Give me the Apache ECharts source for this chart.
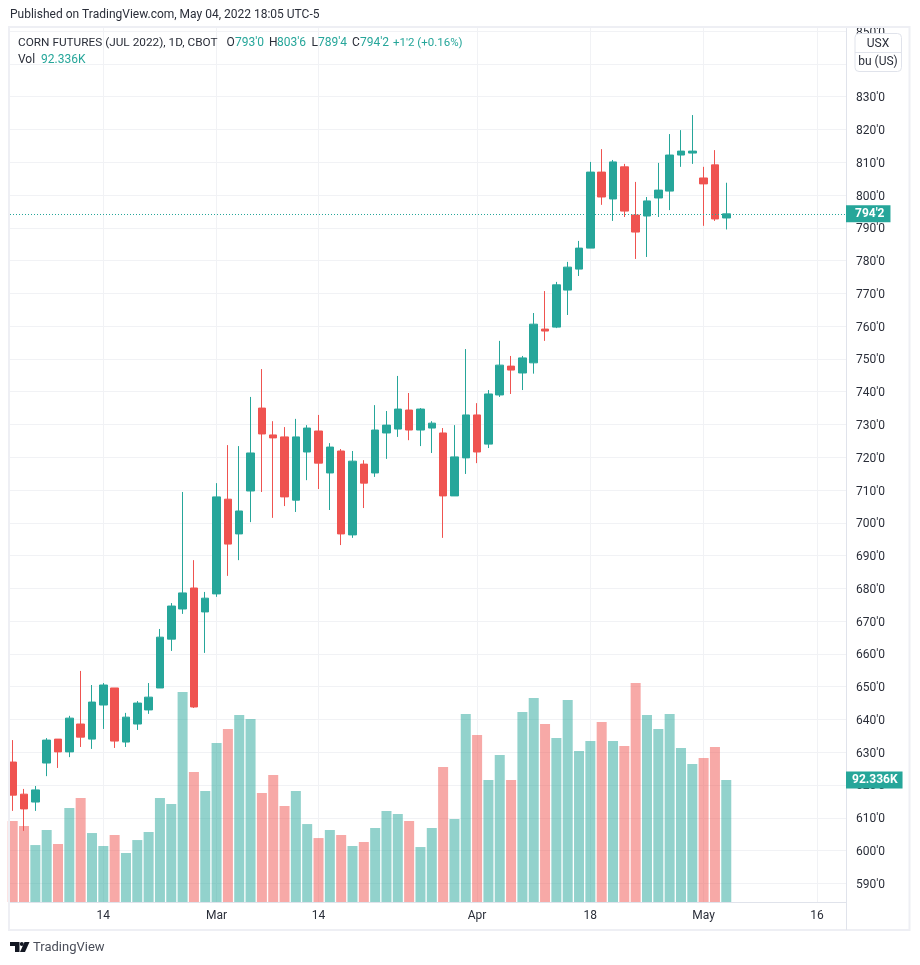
<!DOCTYPE html>
<html><head><meta charset="utf-8">
<style>html,body{margin:0;padding:0;background:#fff}#c{width:920px;height:965px}</style>
<script src="https://cdn.jsdelivr.net/npm/echarts@6/dist/echarts.min.js"></script>
</head><body><div id="c"></div>
<script>
const opens=[627.0,617.2,614.8,626.7,634.0,630.1,638.6,634.0,644.4,649.6,633.1,638.6,642.9,649.6,664.5,673.7,680.1,672.8,678.3,707.2,696.6,709.7,735.0,726.8,726.2,706.9,721.6,728.0,715.2,721.9,696.3,717.9,715.2,727.4,728.6,734.4,728.3,728.9,727.4,708.2,719.8,732.9,724.0,739.0,747.8,745.7,748.8,759.1,759.7,771.0,777.4,783.8,807.0,798.8,808.6,793.9,793.6,799.1,801.2,812.2,812.8,805.2,809.2,793.0];
const closes=[616.9,612.7,618.5,633.7,630.1,640.4,634.6,645.3,650.5,633.4,640.7,645.0,646.8,665.1,674.6,678.6,643.8,677.0,707.9,693.5,703.6,721.3,727.1,725.9,707.9,726.2,728.9,718.2,723.1,696.6,718.8,712.1,728.3,729.8,734.7,728.3,734.7,730.4,708.2,720.1,732.9,721.6,739.3,748.1,746.6,750.3,760.6,758.5,772.6,778.0,783.8,807.0,799.4,810.1,795.1,788.7,798.2,801.5,812.2,813.4,813.4,803.4,792.7,794.25];
const lows=[612.1,606.0,612.1,622.7,625.2,628.5,631.6,631.0,637.1,631.3,631.6,636.8,641.7,649.6,660.9,672.2,643.5,660.3,677.4,683.8,688.6,700.2,709.4,701.5,705.1,703.3,713.0,710.3,703.9,693.2,695.4,704.5,714.0,719.5,726.2,725.2,723.4,721.3,695.4,708.2,714.9,718.2,722.8,738.4,739.3,740.5,745.5,755.5,759.4,763.4,775.3,783.8,797.0,792.1,793.3,780.5,781.1,793.3,795.4,808.6,809.5,790.6,792.1,789.5];
const highs=[633.7,618.8,619.7,634.3,634.0,641.1,654.8,650.5,651.1,649.6,642.0,645.6,651.1,667.6,675.5,709.4,688.6,678.9,712.1,723.7,723.4,738.4,746.9,731.0,729.2,731.7,729.8,732.9,724.3,722.5,721.9,719.1,735.9,734.1,744.8,739.6,735.0,731.0,728.9,729.8,753.0,736.5,740.5,755.5,750.9,750.9,764.0,770.7,773.5,779.6,786.0,810.1,814.0,810.7,809.5,804.0,799.4,809.8,818.6,819.8,824.4,808.6,813.7,803.75];
const volumes=[61.3,57.5,43.1,54.5,43.9,71.1,78.7,52.2,42.4,50.7,37.1,46.9,53.0,78.7,74.2,158.9,98.4,84.0,120.3,130.9,141.5,138.5,82.5,96.1,72.7,84.0,59.0,48.4,54.5,50.7,42.4,45.4,56.0,68.9,66.6,61.3,41.6,56.0,102.2,62.8,142.3,126.4,92.3,111.3,92.3,143.8,154.4,134.7,124.1,152.9,114.3,121.9,136.2,121.9,118.1,165.8,141.5,130.9,142.3,116.6,104.5,109.0,117.3,92.336];
const tickIndex=[8,18,27,41,51,61,71];
const tickLabels=['14','Mar','14','Apr','18','May','16'];
const priceTicks=[590,600,610,620,630,640,650,660,670,680,690,700,710,720,730,740,750,760,770,780,790,800,810,820,830,840,850];
const lastClose=794.25, lastCloseLabel="794'2", lastVolume=92.336, lastVolumeLabel='92.336K';

const UP='#26a69a', DOWN='#ef5350', FONT='Roboto, "Open Sans", sans-serif', INK='#2a2e39', GRID='#f1f2f5';
const candleData=opens.map((o,i)=>[i,o,closes[i],lows[i],highs[i]]);
const volumeData=volumes.map((v,i)=>({value:[i,v],itemStyle:{color:closes[i]<opens[i]?DOWN:UP,opacity:0.5}}));
const txt=(x,y,t,fill,size)=>({type:'text',z:100,silent:true,x,y,style:{text:t,fill:fill||INK,font:(size||12)+'px '+FONT,textVerticalAlign:'middle'}});
const chart=echarts.init(document.getElementById('c'),null,{renderer:'canvas'});
chart.setOption({
  animation:false,backgroundColor:'#fff',
  grid:{left:10,right:74,top:28,bottom:63,containLabel:false},
  xAxis:{type:'value',min:-0.238,max:73.57,
    axisLine:{onZero:false,show:true,lineStyle:{color:'#e0e3eb',width:1}},
    axisTick:{show:false,customValues:tickIndex},
    axisLabel:{customValues:tickIndex,margin:8,color:INK,fontFamily:FONT,fontSize:12,
      formatter:v=>tickLabels[tickIndex.indexOf(v)]||''},
    splitLine:{show:true,lineStyle:{color:GRID,width:1}}},
  yAxis:[
    {type:'value',position:'right',min:584.3,max:850.96,
     axisLine:{show:true,onZero:false,lineStyle:{color:'#e0e3eb',width:1}},
     axisTick:{show:false,customValues:priceTicks},
     axisLabel:{customValues:priceTicks,margin:10,color:INK,fontFamily:FONT,fontSize:12,verticalAlign:'top',lineHeight:3,formatter:v=>v+"'0"},
     splitLine:{show:true,lineStyle:{color:GRID,width:1}}},
    {type:'value',show:false,min:0,max:661.5,splitLine:{show:false}}
  ],
  series:[
    {type:'bar',xAxisIndex:0,yAxisIndex:1,barWidth:10,z:2,data:volumeData,clip:true,
     markLine:{silent:true,symbol:'none',z:20,animation:false,
       lineStyle:{color:'rgba(0,0,0,0)',width:1},
       label:{show:true,position:'end',distance:0,formatter:lastVolumeLabel,color:'#fff',fontFamily:FONT,fontSize:12,fontWeight:'bold',backgroundColor:UP,padding:[3,5,2,6]},
       data:[{yAxis:lastVolume}]}},
    {type:'candlestick',xAxisIndex:0,yAxisIndex:0,barWidth:8,z:3,clip:true,data:candleData,
     itemStyle:{color:UP,color0:DOWN,borderColor:UP,borderColor0:DOWN,borderWidth:1},
     markLine:{silent:true,symbol:'none',z:20,animation:false,
       lineStyle:{color:UP,type:[1,2],width:1},
       label:{show:true,position:'end',distance:0,formatter:lastCloseLabel,color:'#fff',fontFamily:FONT,fontSize:12,fontWeight:'bold',backgroundColor:UP,padding:[3,6,2,9]},
       data:[{yAxis:lastClose}]}}
  ],
  graphic:[
    {type:'rect',z:90,silent:true,shape:{x:847,y:0,width:73,height:27},style:{fill:'#fff'}},
    {type:'rect',z:91,silent:true,shape:{x:9,y:27,width:900.5,height:903},style:{fill:'none',stroke:'#eeeff4',lineWidth:2}},
    {type:'line',z:91,silent:true,shape:{x1:846.5,y1:902,x2:846.5,y2:930},style:{stroke:'#e0e3eb',lineWidth:1}},
    {type:'rect',z:92,silent:true,shape:{x:855,y:33.5,width:46.5,height:38,r:4},style:{fill:'#fff',stroke:'#e0e3eb',lineWidth:1}},
    {type:'line',z:93,silent:true,shape:{x1:855,y1:52.5,x2:901.5,y2:52.5},style:{stroke:'#e0e3eb',lineWidth:1}},
    {type:'text',z:100,silent:true,x:878,y:44,style:{text:'USX',fill:INK,font:'12px '+FONT,textAlign:'center',textVerticalAlign:'middle'}},
    {type:'text',z:100,silent:true,x:878,y:62,style:{text:'bu (US)',fill:INK,font:'12px '+FONT,textAlign:'center',textVerticalAlign:'middle'}},
    txt(10,15,'Published on TradingView.com, May 04, 2022 18:05 UTC-5'),
    txt(18,43,'CORN FUTURES (JUL 2022), 1D, CBOT',INK,11.8),
    txt(226.5,43,'O'),txt(235,43,"793'0",UP),
    txt(269,43,'H'),txt(277,43,"803'6",UP),
    txt(311.5,43,'L'),txt(318,43,"789'4",UP),
    txt(352,43,'C'),txt(360,43,"794'2",UP),
    txt(393,43,"+1'2 (+0.16%)",UP,11.5),
    txt(18,60,'Vol'),txt(41,60,'92.336K',UP),
    {type:'polygon',z:100,silent:true,shape:{points:[[10,942],[19.5,942],[19.5,952],[15,952],[15,946],[10,946]]},style:{fill:'#131722'}},
    {type:'polygon',z:100,silent:true,shape:{points:[[24.5,942],[29.5,942],[25,952],[20,952]]},style:{fill:'#131722'}},
    {type:'circle',z:101,silent:true,shape:{cx:21.8,cy:944,r:2},style:{fill:'#131722'}},
    txt(33,948,'TradingView','#4a4e59',13)
  ]
});
</script></body></html>
